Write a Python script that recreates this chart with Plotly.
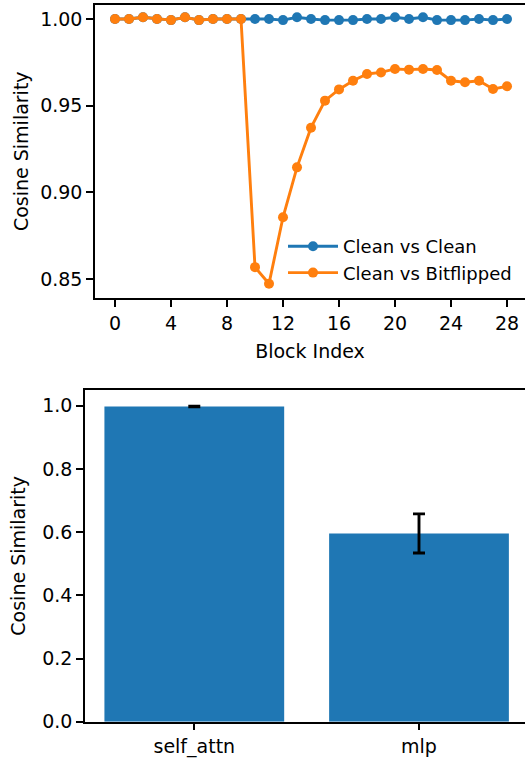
import plotly.graph_objects as go
from plotly.subplots import make_subplots

blocks = list(range(29))
clean_vs_clean = [1.0000, 1.0000, 1.0010, 1.0000, 0.9994, 1.0010, 0.9994, 1.0000, 1.0000, 1.0000,
                  1.0000, 1.0000, 0.9994, 1.0010, 1.0000, 0.9994, 0.9994, 0.9994, 1.0000, 1.0000,
                  1.0010, 1.0000, 1.0010, 0.9994, 0.9994, 0.9994, 1.0000, 0.9994, 1.0000]
clean_vs_bitflipped = [1.0000, 1.0000, 1.0010, 1.0000, 0.9994, 1.0010, 0.9994, 1.0000, 1.0000, 1.0000,
                       0.8568, 0.8472, 0.8856, 0.9144, 0.9373, 0.9529, 0.9594, 0.9644, 0.9683, 0.9692,
                       0.9712, 0.9708, 0.9712, 0.9706, 0.9644, 0.9635, 0.9644, 0.9596, 0.9612]
x_ticks = [0, 4, 8, 12, 16, 20, 24, 28]
y_ticks_top = [0.85, 0.90, 0.95, 1.00]

modules = ["self_attn", "mlp"]
module_means = [0.998, 0.596]
module_errs = [0.001, 0.062]
y_ticks_bottom = [0.0, 0.2, 0.4, 0.6, 0.8, 1.0]

W, H = 525, 762
BLUE = "#1f77b4"
ORANGE = "#ff7f0e"
FONT = "DejaVu Sans"
FS = 19

fig = make_subplots(rows=2, cols=1)

fig.add_trace(go.Scatter(x=blocks, y=clean_vs_clean, mode="lines+markers", name="Clean vs Clean",
                         line=dict(color=BLUE, width=2.9), marker=dict(color=BLUE, size=10)), row=1, col=1)
fig.add_trace(go.Scatter(x=blocks, y=clean_vs_bitflipped, mode="lines+markers", name="Clean vs Bitflipped",
                         line=dict(color=ORANGE, width=2.9), marker=dict(color=ORANGE, size=10)), row=1, col=1)

fig.add_trace(go.Bar(x=modules, y=module_means, width=0.8, marker=dict(color=BLUE, line=dict(width=0)),
                     error_y=dict(type="data", array=module_errs, color="black", thickness=2.9, width=6),
                     showlegend=False), row=2, col=1)

axis_common = dict(showgrid=False, zeroline=False, showline=True, linecolor="black", linewidth=1.5,
                   ticks="outside", ticklen=7, tickwidth=1.5, tickcolor="black", automargin=False,
                   tickfont=dict(family=FONT, size=FS, color="black"))

# top plot: pixel geometry
top_l, top_t, top_b = 95, 4.5, 298
ppu_x = 14.0  # px per block unit, 0 at x=115
x0_top = (top_l - 115) / ppu_x
x1_top = x0_top + (W - top_l) / ppu_x

fig.update_xaxes(**axis_common, domain=[top_l / W, 1], range=[x0_top, x1_top], tickvals=x_ticks,
                 mirror=True, title=dict(text="Block Index", font=dict(family=FONT, size=FS, color="black"), standoff=12),
                 row=1, col=1)
fig.update_yaxes(**axis_common, domain=[(H - top_b) / H, (H - top_t) / H], range=[0.8390, 1.0084],
                 tickvals=y_ticks_top, tickformat=".2f",
                 title=dict(text="Cosine Similarity", font=dict(family=FONT, size=FS, color="black"), standoff=6),
                 row=1, col=1)

bot_l, bot_t, bot_b = 85, 390, 721.7
ppu_b = 224.7
c0 = 194.3
x0_b = (bot_l - c0) / ppu_b
x1_b = x0_b + (W - bot_l) / ppu_b
fig.update_xaxes(**axis_common, domain=[bot_l / W, 1], range=[x0_b, x1_b], mirror=True, row=2, col=1)
fig.update_yaxes(**axis_common, domain=[(H - bot_b) / H, (H - bot_t) / H], range=[0, 1.05],
                 tickvals=y_ticks_bottom, tickformat=".1f",
                 title=dict(text="Cosine Similarity", font=dict(family=FONT, size=FS, color="black"), standoff=12),
                 row=2, col=1)

fig.update_layout(
    width=W, height=H, margin=dict(l=0, r=0, t=0, b=0, autoexpand=False),
    paper_bgcolor="white", plot_bgcolor="white",
    font=dict(family=FONT, size=FS, color="black"),
    legend=dict(x=283 / W, y=(H - 228) / H, xanchor="left", yanchor="top",
                bgcolor="rgba(255,255,255,0.8)", borderwidth=0, itemwidth=50,
                tracegroupgap=0,
                font=dict(family=FONT, size=18, color="black")),
)

fig.write_html("out.html")
